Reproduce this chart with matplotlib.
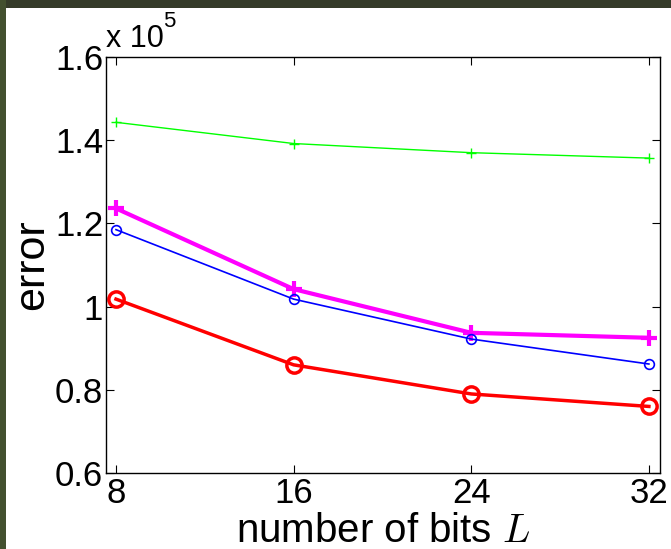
import matplotlib
matplotlib.use("Agg")
import matplotlib.pyplot as plt
from matplotlib.patches import Rectangle

plt.rcParams['font.family'] = ['Liberation Sans', 'DejaVu Sans']
plt.rcParams['mathtext.fontset'] = 'cm'

bits = [8, 16, 24, 32]
green_vals = [1.443, 1.392, 1.370, 1.357]
magenta_vals = [1.236, 1.042, 0.937, 0.925]
blue_vals = [1.185, 1.018, 0.922, 0.862]
red_vals = [1.018, 0.860, 0.790, 0.760]
yticks = [0.6, 0.8, 1.0, 1.2, 1.4, 1.6]
ytick_labels = ['0.6', '0.8', '1', '1.2', '1.4', '1.6']

W, H = 671, 549
fig = plt.figure(figsize=(W/100, H/100), dpi=100)
fig.patch.set_facecolor('white')
# dark frame bands
fig.patches.append(Rectangle((0, 1 - 8/H), 1, 8/H, transform=fig.transFigure,
                             facecolor='#353b29', edgecolor='none', zorder=0))
fig.patches.append(Rectangle((0, 0), 6/W, 1, transform=fig.transFigure,
                             facecolor='#43502f', edgecolor='none', zorder=0))

ax = fig.add_axes([106/W, (H-473)/H, (660-106)/W, (473-57)/H])

ax.plot(bits, green_vals, color='#00ff00', lw=1.0, marker='+', ms=7, mew=1.0)
ax.plot(bits, magenta_vals, color='#ff00ff', lw=3.0, marker='+', ms=12, mew=3.0)
ax.plot(bits, blue_vals, color='#0000ff', lw=1.2, marker='o', ms=7, mfc='none', mew=1.2)
ax.plot(bits, red_vals, color='#ff0000', lw=2.5, marker='o', ms=11, mfc='none', mew=2.5)

ax.set_xlim(7.55, 32.5)
ax.set_ylim(0.6, 1.6)
ax.set_xticks(bits)
ax.set_xticklabels([str(b) for b in bits])
ax.set_yticks(yticks)
ax.set_yticklabels(ytick_labels)
ax.tick_params(direction='in', length=6, width=0.8, top=True, right=True,
               labelsize=25, pad=2, colors='black')
ax.tick_params(axis='x', pad=3)
for s in ax.spines.values():
    s.set_linewidth(1.0)
    s.set_color('black')

ax.set_xlabel(r'number of bits $L$', fontsize=29, labelpad=1)
ax.set_ylabel('error', fontsize=31, labelpad=2)

fig.text(106/W, 1 - 47/H, 'x 10', fontsize=22, ha='left', va='baseline')
fig.text(163/W, 1 - 27/H, '5', fontsize=16, ha='left', va='baseline')

fig.savefig('out.png', dpi=100)
